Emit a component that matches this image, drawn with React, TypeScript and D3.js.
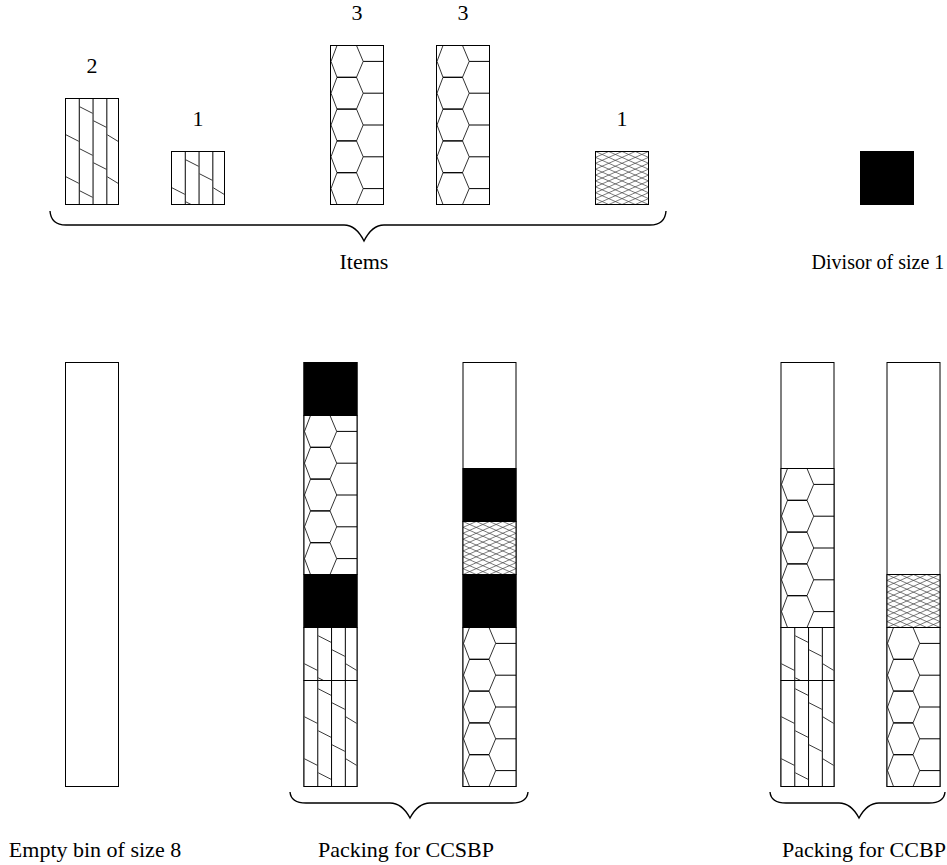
import React from "react";
import * as d3 from "d3";

// ---------- data ----------
const itemSizes = [2, 1, 3, 3, 1];
const itemKinds = ["stripe", "stripe", "hex", "hex", "cross"];
const itemLabels = ["2", "1", "3", "3", "1"];
const divisorSize = 1;
const binCapacity = 8;

const ccsbpBin1Sizes = [2, 1, 1, 3, 1];
const ccsbpBin1Kinds = ["stripe", "stripe", "divisor", "hex", "divisor"];
const ccsbpBin2Sizes = [3, 1, 1, 1];
const ccsbpBin2Kinds = ["hex", "divisor", "cross", "divisor"];
const ccbpBin1Sizes = [2, 1, 3];
const ccbpBin1Kinds = ["stripe", "stripe", "hex"];
const ccbpBin2Sizes = [3, 1];
const ccbpBin2Kinds = ["hex", "cross"];

const textItems = "Items";
const textDivisor = "Divisor of size 1";
const textEmpty = "Empty bin of size 8";
const textCCSBP = "Packing for CCSBP";
const textCCBP = "Packing for CCBP";

// ---------- layout ----------
const W = 947;
const H = 865;
const UNIT = 53;
const FONT = "Liberation Serif";

const xSlot = d3.scaleLinear().domain([0, 1]).range([12.5, 12.5 + UNIT]);
const yItem = d3.scaleLinear().domain([0, 1]).range([204.5, 204.5 - UNIT]);
const yBin = d3.scaleLinear().domain([0, binCapacity]).range([786.5, 786.5 - UNIT * binCapacity]);

const itemSlots = [1, 3, 6, 8, 11];
const divisorSlot = 16;
const emptySlot = 1;
const ccsbpSlots = [5.5, 8.5];
const ccbpSlots = [14.5, 16.5];

let clipCounter = 0;

function patternEls(kind: string, x: number, y: number, w: number, h: number, key: string) {
  const els: React.ReactNode[] = [];
  if (kind === "divisor") {
    return [<rect key={key + "f"} x={x} y={y} width={w} height={h} fill="#000" />];
  }
  if (kind === "stripe") {
    const sp = w * 0.26;
    let d = "";
    for (let k = 1; k <= 3; k++) {
      d += `M${x + sp * k},${y}V${y + h}`;
    }
    let sd = "";
    for (let c = 0; c < 4; c++) {
      const cl = x + c * sp;
      const cr = Math.min(x + (c + 1) * sp, x + w);
      const off = (((8.3 + 14 * (c - 1)) % 42) + 42) % 42;
      for (let yy = y + off; yy < y + h; yy += 42) {
        sd += `M${cl + 0.5},${yy}L${cr - 0.5},${yy + 6.5}`;
      }
    }
    els.push(<path key={key + "v"} d={d} stroke="#000" strokeWidth={1} fill="none" />);
    els.push(<path key={key + "s"} d={sd} stroke="#222" strokeWidth={0.9} fill="none" />);
  } else if (kind === "hex") {
    const hh = (UNIT * 3) / 5;
    const a = w * (0.5 / 53), b = w * (6.5 / 53), c2 = w * (26 / 53), e = w * (32.7 / 53);
    let dd = "";
    let hd = "";
    for (let k = 0; k * hh < h - 1; k++) {
      const yk = y + k * hh;
      dd += `M${x + b},${yk}L${x + a},${yk + hh / 2}L${x + b},${yk + hh}`;
      dd += `M${x + c2},${yk}L${x + e},${yk + hh / 2}L${x + c2},${yk + hh}`;
      hd += `M${x + b},${yk}H${x + c2}M${x + b},${yk + hh}H${x + c2}`;
      hd += `M${x + e},${yk + hh / 2}H${x + w}`;
    }
    els.push(<path key={key + "d"} d={dd} stroke="#333" strokeWidth={1} fill="none" />);
    els.push(<path key={key + "h"} d={hd} stroke="#000" strokeWidth={1} fill="none" />);
  } else if (kind === "cross") {
    const a = w / 4;
    const b = UNIT / 9;
    let d = "";
    for (let k = -6; k * b < h + 6 * b; k++) {
      const y0 = y + k * b;
      d += `M${x},${y0}L${x + w},${y0 + (w * b) / a}`;
      d += `M${x},${y0}L${x + w},${y0 - (w * b) / a}`;
    }
    els.push(<path key={key + "c"} d={d} stroke="#444" strokeWidth={0.7} fill="none" />);
  }
  return els;
}

function Block({ kind, x, y, w, h }: { kind: string; x: number; y: number; w: number; h: number }) {
  const id = "clip" + clipCounter++;
  return (
    <g>
      <clipPath id={id}>
        <rect x={x} y={y} width={w} height={h} />
      </clipPath>
      <rect x={x} y={y} width={w} height={h} fill="#fff" />
      <g clipPath={`url(#${id})`}>{patternEls(kind, x, y, w, h, id)}</g>
      <rect x={x} y={y} width={w} height={h} fill="none" stroke="#000" strokeWidth={1} />
    </g>
  );
}

function Bin({ slot, sizes, kinds }: { slot: number; sizes: number[]; kinds: string[] }) {
  const x = xSlot(slot);
  let acc = 0;
  const blocks = sizes.map((s, i) => {
    const y0 = yBin(acc + s);
    const y1 = yBin(acc);
    acc += s;
    return <Block key={i} kind={kinds[i]} x={x} y={y0} w={UNIT} h={y1 - y0} />;
  });
  return (
    <g>
      <rect x={x} y={yBin(binCapacity)} width={UNIT} height={yBin(0) - yBin(binCapacity)} fill="#fff" stroke="#000" strokeWidth={1} />
      {blocks}
    </g>
  );
}

function bracePath(x0: number, x1: number, xt: number, yTop: number, yMid: number, yTip: number) {
  return (
    `M${x0},${yTop}Q${x0 + 1},${yMid} ${x0 + 16},${yMid}` +
    `L${xt - 20},${yMid}Q${xt - 8},${yMid} ${xt},${yTip}` +
    `Q${xt + 8},${yMid} ${xt + 20},${yMid}` +
    `L${x1 - 16},${yMid}Q${x1 - 1},${yMid} ${x1},${yTop}`
  );
}

export default function App() {
  clipCounter = 0;
  const txt = (s: string, x: number, y: number, k: string, fs = 22) => (
    <text key={k} x={x} y={y} textAnchor="middle" fontFamily={FONT} fontSize={fs} fill="#000">
      {s}
    </text>
  );
  return (
    <svg width={W} height={H} style={{ position: "absolute", left: 0, top: 0, background: "#fff" }}>
      {/* items */}
      {itemSizes.map((s, i) => {
        const x = xSlot(itemSlots[i]);
        const y0 = yItem(s);
        const y1 = yItem(0);
        return (
          <g key={"it" + i}>
            <Block kind={itemKinds[i]} x={x} y={y0} w={UNIT} h={y1 - y0} />
            {txt(itemLabels[i], x + UNIT / 2, y0 - 26, "lab" + i)}
          </g>
        );
      })}
      {/* divisor */}
      <Block kind="divisor" x={xSlot(divisorSlot)} y={yItem(divisorSize)} w={UNIT} h={yItem(0) - yItem(divisorSize)} />
      {txt(textDivisor, 878, 269, "div", 20)}

      {/* items brace */}
      <path d={bracePath(50, 666, 364, 211, 225, 241)} fill="none" stroke="#000" strokeWidth={1.4} />
      {txt(textItems, 364, 269, "items")}

      {/* bins */}
      <Bin slot={emptySlot} sizes={[]} kinds={[]} />
      <Bin slot={ccsbpSlots[0]} sizes={ccsbpBin1Sizes} kinds={ccsbpBin1Kinds} />
      <Bin slot={ccsbpSlots[1]} sizes={ccsbpBin2Sizes} kinds={ccsbpBin2Kinds} />
      <Bin slot={ccbpSlots[0]} sizes={ccbpBin1Sizes} kinds={ccbpBin1Kinds} />
      <Bin slot={ccbpSlots[1]} sizes={ccbpBin2Sizes} kinds={ccbpBin2Kinds} />

      {/* bottom braces */}
      <path d={bracePath(290, 528, 410, 792, 803, 818)} fill="none" stroke="#000" strokeWidth={1.4} />
      <path d={bracePath(770, 945, 859, 792, 803, 818)} fill="none" stroke="#000" strokeWidth={1.4} />

      {txt(textEmpty, 95, 857, "empty")}
      {txt(textCCSBP, 406, 857, "ccsbp")}
      {txt(textCCBP, 864, 857, "ccbp")}
    </svg>
  );
}
